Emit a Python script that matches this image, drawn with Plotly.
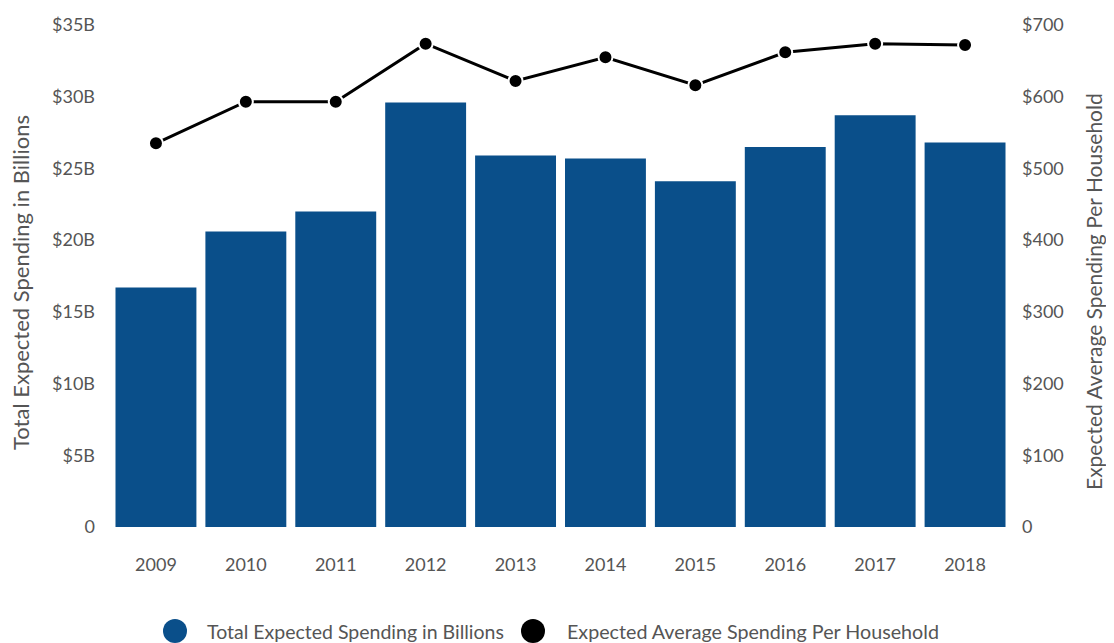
import plotly.graph_objects as go

years = ["2009", "2010", "2011", "2012", "2013", "2014", "2015", "2016", "2017", "2018"]
total_billions = [16.7, 20.6, 22.0, 29.6, 25.9, 25.7, 24.1, 26.5, 28.7, 26.8]
avg_per_household = [535, 593, 593, 674, 622, 655, 616, 662, 674, 672]

left_ticks = [0, 5, 10, 15, 20, 25, 30, 35]
left_labels = ["0", "$5B", "$10B", "$15B", "$20B", "$25B", "$30B", "$35B"]
right_ticks = [0, 100, 200, 300, 400, 500, 600, 700]
right_labels = ["0", "$100", "$200", "$300", "$400", "$500", "$600", "$700"]

series_names = ["Total Expected Spending in Billions", "Expected Average Spending Per Household"]

BLUE = "#0a4f8a"
GREY = "#555555"
FONT = "Lato"

# page has an 8px body margin; figure sized to fit the 1114x643 window
OFF = 8
W, H = 1114 - OFF, 643 - OFF
L, R, T, B = 103, 104, 17, 116
PW, PH = W - L - R, H - T - B


def px(x):
    """page pixel x -> paper coordinate"""
    return (x - OFF - L) / PW


def py(y):
    """page pixel y -> paper coordinate"""
    return (H - B - (y - OFF)) / PH


fig = go.Figure()
fig.add_trace(go.Bar(
    x=years, y=total_billions, name=series_names[0],
    marker=dict(color=BLUE, line=dict(width=0)),
    showlegend=False, yaxis="y"))
fig.add_trace(go.Scatter(
    x=years, y=avg_per_household, name=series_names[1], yaxis="y2", mode="lines+markers",
    line=dict(color="black", width=3),
    marker=dict(color="black", size=14, line=dict(color="white", width=2)),
    showlegend=False))

shapes = []
annotations = []
# custom legend (circles + labels)
legend_items = [(175, 205, BLUE, series_names[0], 19.5), (533, 565, "black", series_names[1], 19.7)]
for cx, tx, col, name, fs in legend_items:
    shapes.append(dict(type="circle", xref="paper", yref="paper",
                       x0=px(cx - 12), x1=px(cx + 12), y0=py(631 + 12), y1=py(631 - 12),
                       fillcolor=col, line=dict(width=0)))
    annotations.append(dict(text=name, xref="paper", yref="paper", x=px(tx), y=py(631),
                            xanchor="left", yanchor="middle", showarrow=False,
                            font=dict(size=fs, color=GREY)))
# axis titles
annotations.append(dict(text="Total Expected Spending in Billions", xref="paper", yref="paper",
                        x=px(20), y=py(283), textangle=-90, showarrow=False,
                        xanchor="center", yanchor="middle", font=dict(size=22, color=GREY)))
annotations.append(dict(text="Expected Average Spending Per Household", xref="paper", yref="paper",
                        x=px(1093), y=py(292), textangle=-90, showarrow=False,
                        xanchor="center", yanchor="middle", font=dict(size=21, color=GREY)))

fig.update_layout(
    width=W, height=H,
    margin=dict(l=L, r=R, t=T, b=B),
    paper_bgcolor="white", plot_bgcolor="white",
    font=dict(family=FONT, color=GREY, size=18),
    bargap=0.1,
    showlegend=False,
    xaxis=dict(range=[-0.5, len(years) - 0.5], showgrid=False, showline=False, zeroline=False,
               ticks="", automargin=False,
               ticklabelstandoff=25, tickfont=dict(size=18, color=GREY)),
    yaxis=dict(range=[0, 35], tickvals=left_ticks, ticktext=left_labels, automargin=False,
               showgrid=False, zeroline=False, showline=False, ticks="",
               ticklabelstandoff=15, tickfont=dict(size=18, color=GREY)),
    yaxis2=dict(range=[0, 700], tickvals=right_ticks, ticktext=right_labels, automargin=False,
                overlaying="y", side="right",
                showgrid=False, zeroline=False, showline=False, ticks="",
                ticklabelstandoff=11, tickfont=dict(size=18, color=GREY)),
    shapes=shapes,
    annotations=annotations,
)

fig.write_html("out.html")
